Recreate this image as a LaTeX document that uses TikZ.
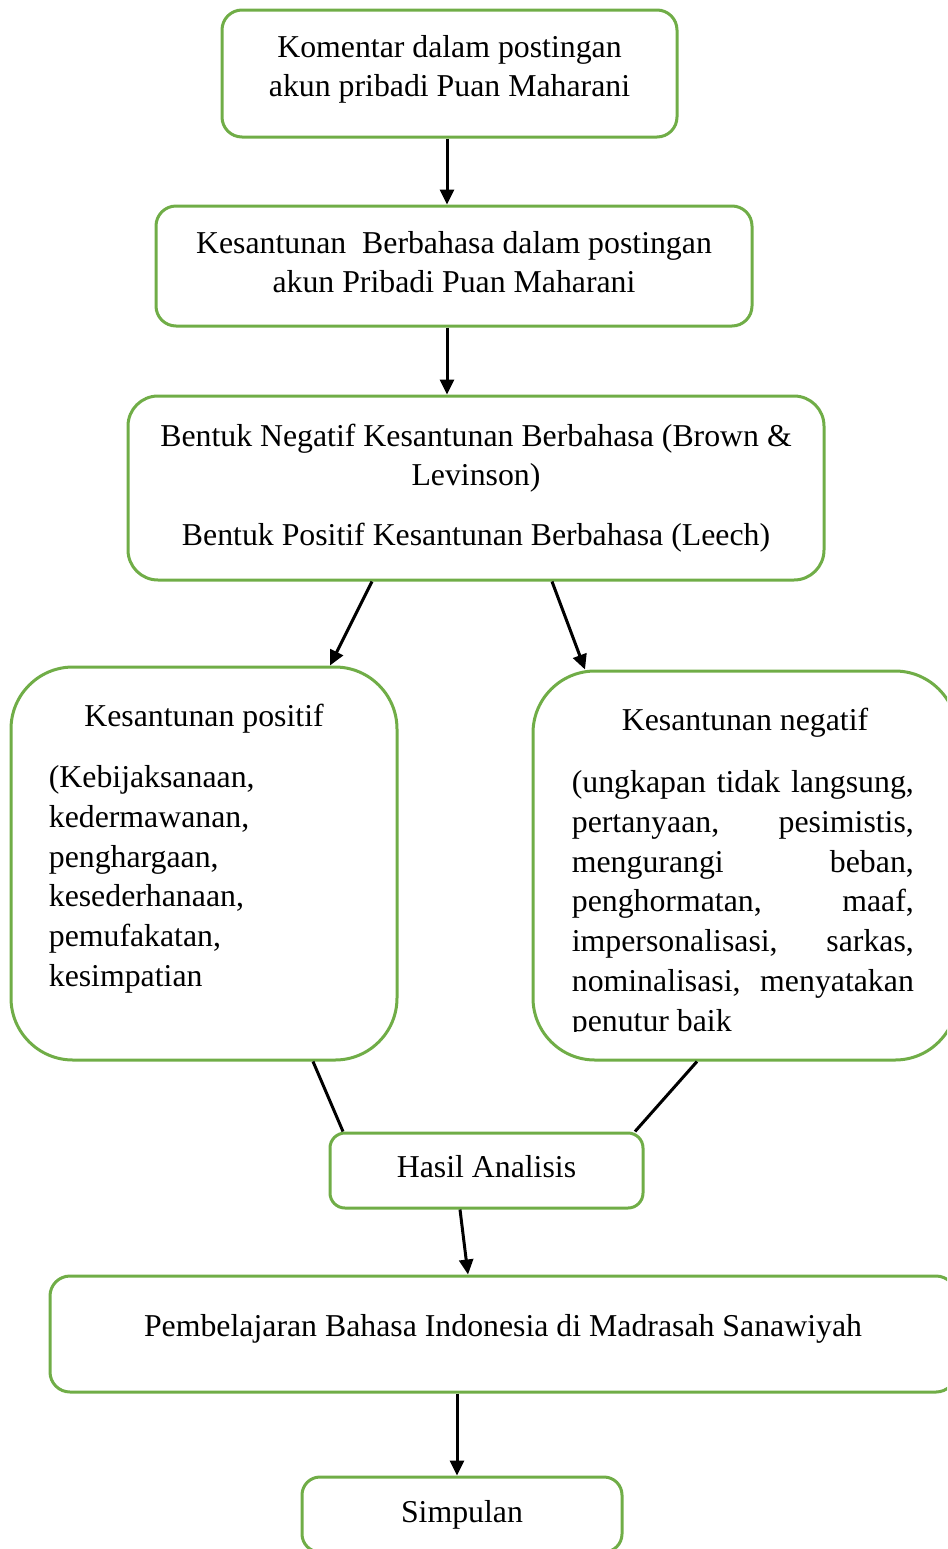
\documentclass[tikz,border=0pt]{standalone}
\usepackage{fontspec}
\setmainfont{Liberation Serif}
\usepackage{xcolor}
\usetikzlibrary{arrows.meta,calc}
\definecolor{hijau}{RGB}{112,173,71}
\newlength\upx
\setlength\upx{0.02cm}
\newcommand{\isi}{\fontsize{18.1}{22.2}\selectfont}
\newcommand{\isilebar}{\fontsize{18.1}{22.65}\selectfont}
\newcommand{\baris}[1]{\makebox[342\upx][s]{#1}}

\begin{document}
\begin{tikzpicture}[x=0.02cm,y=-0.02cm,
	kotak/.style={draw=hijau,line width=3\upx,rounded corners=20\upx,align=center,inner sep=0pt,font=\isi},
	teks/.style={inner sep=0pt,font=\isi},
	panah/.style={-{Triangle[length=0.3cm,width=0.28cm]},line width=0.06cm},
	garis/.style={line width=0.06cm}]
	\useasboundingbox (0,0) rectangle (947,1549);
	\clip (0,0) rectangle (947,1549);
	% Kotak atas
	\node[kotak,text height=51.9\upx,text depth=6.9\upx,minimum width=455\upx,minimum height=127\upx] (komentar) at (449.5,73.5) {Komentar dalam postingan\\akun pribadi Puan Maharani};
	\node[kotak,text height=60.6\upx,text depth=6.9\upx,minimum width=596\upx,minimum height=120\upx] (kesantunan) at (454,266) {Kesantunan\ \ Berbahasa dalam postingan\\akun Pribadi Puan Maharani};
	\node[kotak,rounded corners=30\upx,minimum width=696\upx,minimum height=184\upx] (bentuk) at (476,488) {Bentuk Negatif Kesantunan Berbahasa (Brown \&\\Levinson)\\[21.5\upx]Bentuk Positif Kesantunan Berbahasa (Leech)};
	% Kesantunan positif
	\node[kotak,rounded corners=62\upx,minimum width=386\upx,minimum height=393\upx] (positif) at (204,863.5) {};
	\node[teks,anchor=base] (judulpositif) at ($(positif.north)+(0,61)$) {Kesantunan positif};
	\node[teks,anchor=base west] (isipositif) at ($(positif.north west)+(39,122)$) {\parbox[t]{300\upx}{\isilebar\raggedright (Kebijaksanaan,\\kedermawanan,\\penghargaan,\\kesederhanaan,\\pemufakatan,\\kesimpatian}};
	% Kesantunan negatif
	\node[kotak,rounded corners=62\upx,minimum width=424\upx,minimum height=389\upx] (negatif) at (745,865.5) {};
	\node[teks,anchor=base] (judulnegatif) at ($(negatif.north)+(0,61)$) {Kesantunan negatif};
	\begin{scope}
		\clip (negatif.north west) rectangle ($(negatif.south east)+(0,-30)$);
		\node[teks,anchor=base west] (isinegatif) at ($(negatif.north west)+(40,123)$) {\parbox[t]{342\upx}{\isilebar\baris{(ungkapan tidak langsung,}\\\baris{pertanyaan, pesimistis,}\\\baris{mengurangi beban,}\\\baris{penghormatan, maaf,}\\\baris{impersonalisasi, sarkas,}\\\baris{nominalisasi, menyatakan}\\penutur baik}};
	\end{scope}
	% Kotak bawah
	\node[kotak,text height=21.6\upx,text depth=8\upx,rounded corners=15\upx,minimum width=313\upx,minimum height=75\upx] (hasil) at (486.5,1170.5) {Hasil Analisis};
	\node[kotak,text height=21.6\upx,text depth=16.9\upx,minimum width=906\upx,minimum height=116\upx] (belajar) at (503,1334) {Pembelajaran Bahasa Indonesia di Madrasah Sanawiyah};
	\node[kotak,rounded corners=18\upx,minimum width=320\upx,minimum height=75\upx] (simpulan) at (462,1514.5) {Simpulan};
	% Panah
	\coordinate (p1) at ($(komentar.south)+(-2.5,0)$);
	\draw[panah] (p1) -- (p1 |- kesantunan.north);
	\coordinate (p2) at ($(kesantunan.south)+(-7,0)$);
	\draw[panah] (p2) -- (p2 |- bentuk.north);
	\draw[panah] ($(bentuk.south)+(-104,0)$) -- ($(positif.north)+(126,0)$);
	\draw[panah] ($(bentuk.south)+(76,0)$) -- ($(negatif.north)+(-160,0)$);
	\draw[garis] ($(positif.south)+(109,0)$) -- ($(hasil.north)+(-143.5,0)$);
	\draw[garis] ($(negatif.south)+(-48,0)$) -- ($(hasil.north)+(148.5,0)$);
	\draw[panah] ($(hasil.south)+(-26.5,0)$) -- ($(belajar.north)+(-35,0)$);
	\coordinate (p3) at ($(belajar.south)+(-46,0)$);
	\draw[panah] (p3) -- (p3 |- simpulan.north);
\end{tikzpicture}
\end{document}
